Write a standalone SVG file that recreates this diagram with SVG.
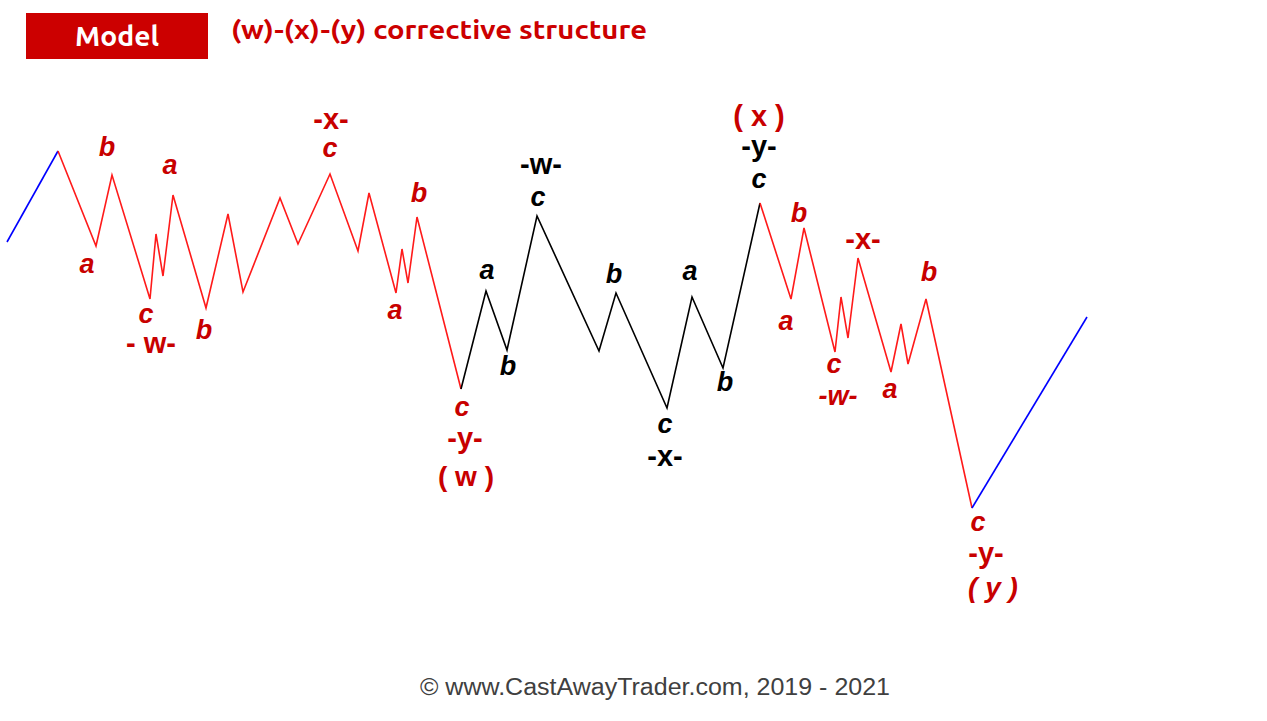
<svg xmlns="http://www.w3.org/2000/svg" width="1267" height="721" viewBox="0 0 1267 721">
<style>
.ln{fill:none;stroke-width:1.6;stroke-linejoin:miter}
.red{stroke:#ff1a1a}
.blk{stroke:#000}
.blu{stroke:#0000ff}
.lb{font-family:"Liberation Sans",Arial,sans-serif;font-weight:bold;font-size:29px;text-anchor:middle}
.it{font-style:italic;font-size:27px}
.r{fill:#c80000}
.k{fill:#000}
</style>
<rect width="1267" height="721" fill="#fff"/>
<g id="title">
<rect x="26" y="13" width="182" height="46" fill="#cc0000"/>
<text x="117" y="46" font-family="Ubuntu,'Open Sans',sans-serif" font-weight="bold" font-size="27" fill="#fff" text-anchor="middle" textLength="84" lengthAdjust="spacingAndGlyphs">Model</text>
<text x="231" y="39" font-family="Ubuntu,'Open Sans',sans-serif" font-weight="bold" font-size="25" fill="#cc0000" textLength="416" lengthAdjust="spacingAndGlyphs">(w)-(x)-(y) corrective structure</text>
</g>
<g id="connectors">
<polyline class="ln blu" points="7,242 58,151"/>
<polyline class="ln red" points="58,151 96,246 112,175 150,299 156,234 163,276 173,195 206,308 228,214 243,292 280,198 298,244 330,174 358,251 369,193 396,293 402,249 408,283 417,217 461,389"/>
<polyline class="ln blk" points="461,389 486,291 507,350 537,216 599,351 616,293 667,408 692,297 723,368 760,203"/>
<polyline class="ln red" points="760,203 791,299 804,228 835,352 841,297 848,338 858,258 891,372 901,324 908,364 926,299 972,508"/>
<polyline class="ln blu" points="972,508 1087,317"/>
</g>
<g id="labels-w">
<text class="lb it r" x="107" y="156">b</text>
<text class="lb it r" x="87" y="273">a</text>
<text class="lb it r" x="170" y="174">a</text>
<text class="lb it r" x="146" y="323">c</text>
<text class="lb r" x="151" y="353">- w-</text>
<text class="lb it r" x="204" y="339">b</text>
<text class="lb r" x="331" y="129">-x-</text>
<text class="lb it r" x="330" y="157">c</text>
<text class="lb it r" x="419" y="202">b</text>
<text class="lb it r" x="395" y="319">a</text>
<text class="lb it r" x="462" y="416">c</text>
<text class="lb r" x="465" y="448">-y-</text>
<text class="lb r" x="466" y="486" style="font-size:28px">( w )</text>
</g>
<g id="labels-x">
<text class="lb it k" x="487" y="279">a</text>
<text class="lb it k" x="508" y="375">b</text>
<text class="lb k" x="541" y="174">-w-</text>
<text class="lb it k" x="538" y="206">c</text>
<text class="lb it k" x="614" y="283">b</text>
<text class="lb it k" x="690" y="280">a</text>
<text class="lb it k" x="725" y="391">b</text>
<text class="lb it k" x="665" y="433">c</text>
<text class="lb k" x="665" y="466">-x-</text>
<text class="lb r" x="759" y="126" style="font-size:29px">( x )</text>
<text class="lb k" x="759" y="156">-y-</text>
<text class="lb it k" x="759" y="188">c</text>
</g>
<g id="labels-y">
<text class="lb it r" x="799" y="222">b</text>
<text class="lb it r" x="786" y="330">a</text>
<text class="lb it r" x="834" y="373">c</text>
<text class="lb it r" x="838" y="405">-w-</text>
<text class="lb r" x="863" y="249">-x-</text>
<text class="lb it r" x="890" y="398">a</text>
<text class="lb it r" x="929" y="281">b</text>
<text class="lb it r" x="978" y="531">c</text>
<text class="lb r" x="986" y="563">-y-</text>
<text class="lb it r" x="993" y="597" style="font-size:28px">( y )</text>
</g>
<g id="footer">
<text x="655" y="695" font-family="'Liberation Sans',Arial,sans-serif" font-size="23" fill="#404040" text-anchor="middle" textLength="470" lengthAdjust="spacingAndGlyphs">© www.CastAwayTrader.com, 2019 - 2021</text>
</g>
</svg>
